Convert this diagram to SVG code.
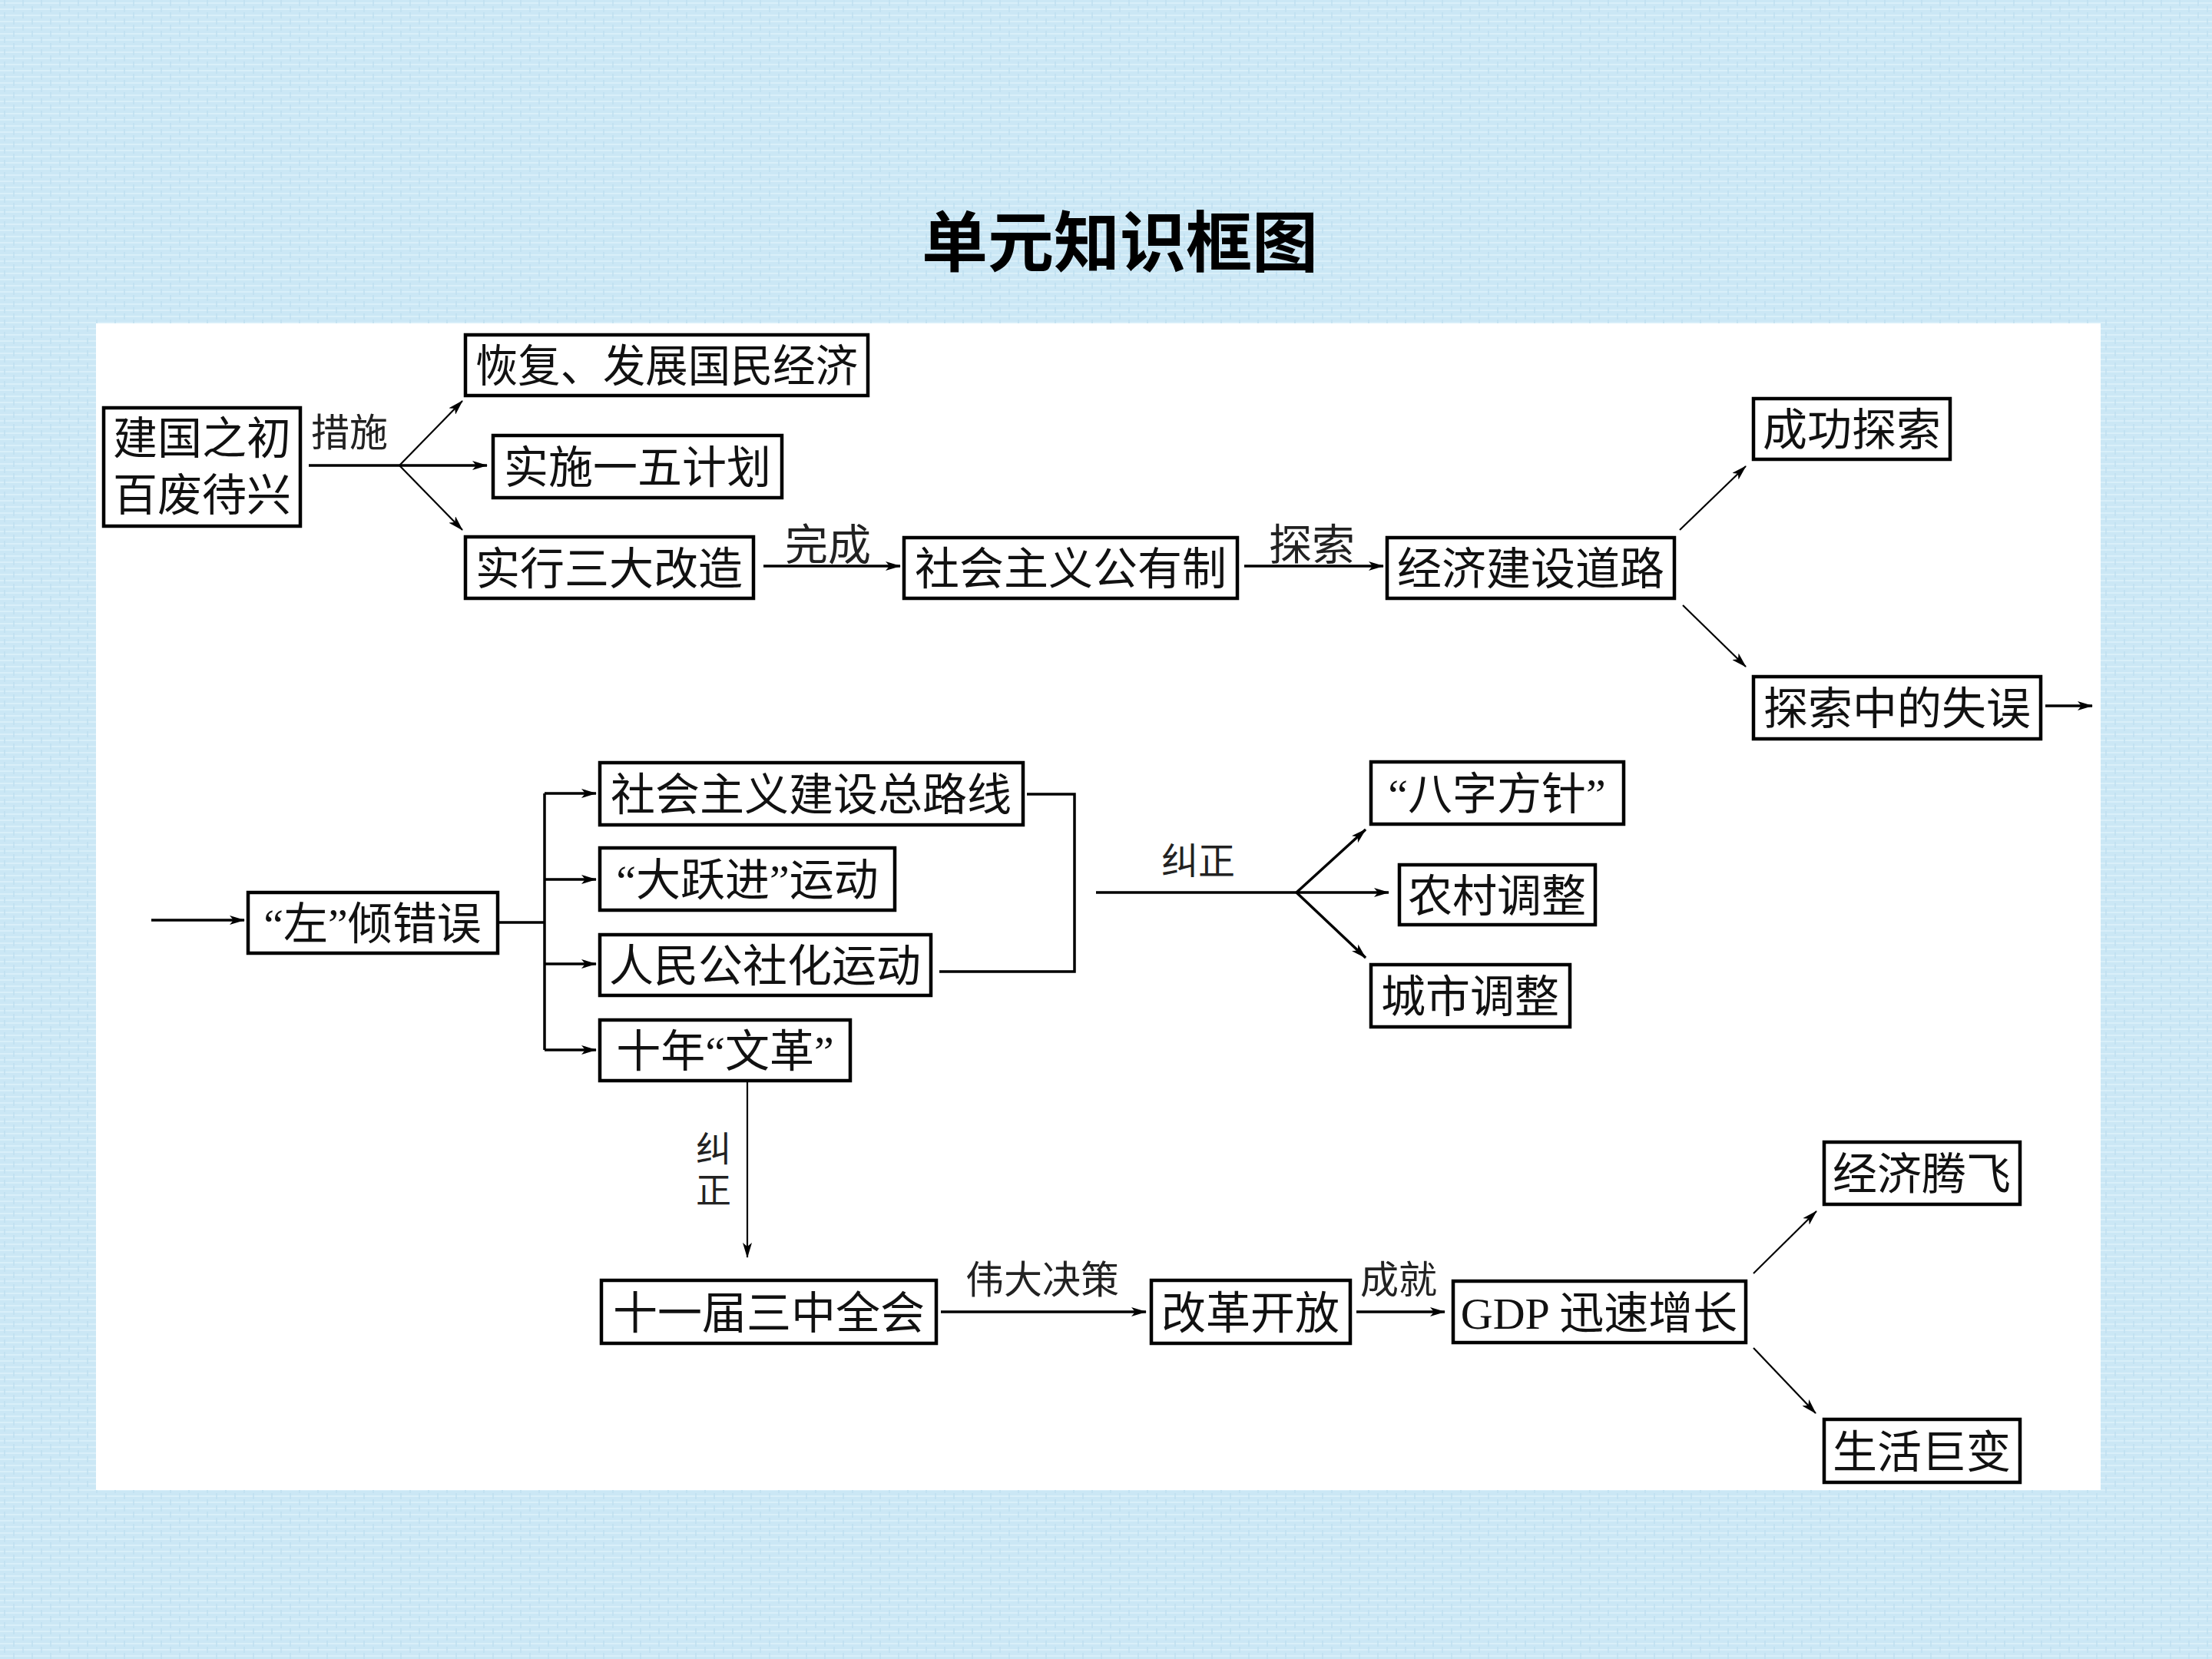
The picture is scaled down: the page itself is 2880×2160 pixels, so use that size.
<svg xmlns="http://www.w3.org/2000/svg" width="2880" height="2160" viewBox="0 0 2880 2160">
<defs>
<pattern id="bgp" width="24" height="16" patternUnits="userSpaceOnUse">
<rect width="24" height="16" fill="#cbe7f5"/>
<path d="M0,4 H24 M0,12 H24" stroke="#d9eff9" stroke-width="2"/>
<path d="M6,0 V8 M18,8 V16" stroke="#bfe0f0" stroke-width="1.5"/>
</pattern>
<marker id="ah" viewBox="0 0 20 12" refX="19" refY="6" markerWidth="20" markerHeight="12" markerUnits="userSpaceOnUse" orient="auto">
<path d="M0,0 L20,6 L0,12 L5,6 z" fill="#000"/>
</marker>
<style>
.box{fill:#fff;stroke:#000;stroke-width:4.5}
.t{font-family:"Noto Sans CJK SC","Noto Sans CJK JP",sans-serif;font-size:58px;fill:#111;text-anchor:middle}
.lbl{font-family:"Noto Sans CJK SC","Noto Sans CJK JP",sans-serif;font-size:50px;fill:#222;text-anchor:middle}
.q{font-family:"Liberation Serif",serif}
.ln{stroke:#000;stroke-width:3.5;fill:none}
.th{stroke:#000;stroke-width:2.2;fill:none}
.ar{marker-end:url(#ah)}
</style>
</defs>
<rect width="2880" height="2160" fill="url(#bgp)"/>
<rect x="125" y="421" width="2610" height="1519" fill="#fff"/>
<text x="1458" y="347" style="font-family:'Noto Sans CJK SC',sans-serif;font-size:86px;font-weight:bold;fill:#000;text-anchor:middle">单元知识框图</text>

<g id="connectors">
<line class="ln ar" x1="402" y1="606" x2="634" y2="606"/>
<line class="th ar" x1="520" y1="606" x2="602" y2="522"/>
<line class="th ar" x1="520" y1="606" x2="602" y2="690"/>
<text class="lbl" x="455" y="581">措施</text>
<line class="ln ar" x1="994" y1="737" x2="1172" y2="737"/>
<text class="lbl" x="1078" y="729" style="font-size:56px">完成</text>
<line class="ln ar" x1="1620" y1="737" x2="1801" y2="737"/>
<text class="lbl" x="1708" y="729" style="font-size:56px">探索</text>
<line class="th ar" x1="2187" y1="690" x2="2273" y2="607"/>
<line class="th ar" x1="2191" y1="788" x2="2273" y2="868"/>
<line class="ln ar" x1="2663" y1="919" x2="2724" y2="919"/>
<line class="ln ar" x1="197" y1="1198" x2="318" y2="1198"/>
<line class="ln" x1="648" y1="1201" x2="709" y2="1201"/>
<line class="ln" x1="709" y1="1033" x2="709" y2="1367"/>
<line class="ln ar" x1="709" y1="1033" x2="776" y2="1033"/>
<line class="ln ar" x1="709" y1="1145" x2="776" y2="1145"/>
<line class="ln ar" x1="709" y1="1255" x2="776" y2="1255"/>
<line class="ln ar" x1="709" y1="1367" x2="776" y2="1367"/>
<polyline class="ln" points="1337,1034 1399,1034 1399,1265 1223,1265"/>
<line class="ln ar" x1="1427" y1="1162" x2="1808" y2="1162"/>
<line class="ln ar" x1="1688" y1="1162" x2="1778" y2="1080"/>
<line class="ln ar" x1="1688" y1="1162" x2="1778" y2="1247"/>
<text class="lbl" x="1560" y="1138" style="font-size:48px">纠正</text>
<line class="th ar" x1="973" y1="1407" x2="973" y2="1637"/>
<text class="lbl" style="font-size:46px"><tspan x="929" y="1512">纠</tspan><tspan x="929" y="1566">正</tspan></text>
<line class="ln ar" x1="1225" y1="1708" x2="1492" y2="1708"/>
<text class="lbl" x="1357" y="1684">伟大决策</text>
<line class="ln ar" x1="1766" y1="1708" x2="1881" y2="1708"/>
<text class="lbl" x="1821" y="1684">成就</text>
<line class="th ar" x1="2283" y1="1658" x2="2365" y2="1577"/>
<line class="th ar" x1="2283" y1="1755" x2="2364" y2="1840"/>
</g>

<g id="n1"><rect class="box" x="135" y="531" width="256" height="154"/><text class="t"><tspan x="263" y="591">建国之初</tspan><tspan x="263" y="665">百废待兴</tspan></text></g>
<g id="n2"><rect class="box" x="606" y="436" width="524" height="79"/><text class="t" x="868" y="497" textLength="498" lengthAdjust="spacingAndGlyphs">恢复、发展国民经济</text></g>
<g id="n3"><rect class="box" x="642" y="567" width="376" height="81"/><text class="t" x="830" y="629">实施一五计划</text></g>
<g id="n4"><rect class="box" x="606" y="699" width="375" height="80"/><text class="t" x="793" y="761">实行三大改造</text></g>
<g id="n5"><rect class="box" x="1177" y="700" width="434" height="79"/><text class="t" x="1394" y="761">社会主义公有制</text></g>
<g id="n6"><rect class="box" x="1806" y="700" width="374" height="79"/><text class="t" x="1993" y="761">经济建设道路</text></g>
<g id="n7"><rect class="box" x="2283" y="519" width="256" height="79"/><text class="t" x="2411" y="580">成功探索</text></g>
<g id="n8"><rect class="box" x="2283" y="881" width="374" height="81"/><text class="t" x="2470" y="943">探索中的失误</text></g>
<g id="n9"><rect class="box" x="323" y="1162" width="325" height="79"/><text class="t" x="485" y="1223"><tspan class="q">“</tspan>左<tspan class="q">”</tspan>倾错误</text></g>
<g id="n10"><rect class="box" x="781" y="993" width="551" height="81"/><text class="t" x="1056" y="1055">社会主义建设总路线</text></g>
<g id="n11"><rect class="box" x="781" y="1104" width="384" height="81"/><text class="t" x="973" y="1166"><tspan class="q">“</tspan>大跃进<tspan class="q">”</tspan>运动</text></g>
<g id="n12"><rect class="box" x="781" y="1217" width="431" height="79"/><text class="t" x="996" y="1278">人民公社化运动</text></g>
<g id="n13"><rect class="box" x="781" y="1328" width="326" height="79"/><text class="t" x="944" y="1389">十年<tspan class="q">“</tspan>文革<tspan class="q">”</tspan></text></g>
<g id="n14"><rect class="box" x="1785" y="992" width="329" height="81"/><text class="t" x="1949" y="1054"><tspan class="q">“</tspan>八字方针<tspan class="q">”</tspan></text></g>
<g id="n15"><rect class="box" x="1822" y="1126" width="255" height="78"/><text class="t" x="1949" y="1187">农村调整</text></g>
<g id="n16"><rect class="box" x="1785" y="1256" width="259" height="81"/><text class="t" x="1914" y="1318">城市调整</text></g>
<g id="n17"><rect class="box" x="783" y="1667" width="436" height="82"/><text class="t" x="1001" y="1730">十一届三中全会</text></g>
<g id="n18"><rect class="box" x="1499" y="1667" width="259" height="82"/><text class="t" x="1628" y="1730">改革开放</text></g>
<g id="n19"><rect class="box" x="1892" y="1668" width="381" height="80"/><text class="t" x="2082" y="1730"><tspan class="q">GDP </tspan>迅速增长</text></g>
<g id="n20"><rect class="box" x="2375" y="1487" width="255" height="81"/><text class="t" x="2502" y="1549">经济腾飞</text></g>
<g id="n21"><rect class="box" x="2375" y="1848" width="255" height="82"/><text class="t" x="2502" y="1911">生活巨变</text></g>
</svg>
